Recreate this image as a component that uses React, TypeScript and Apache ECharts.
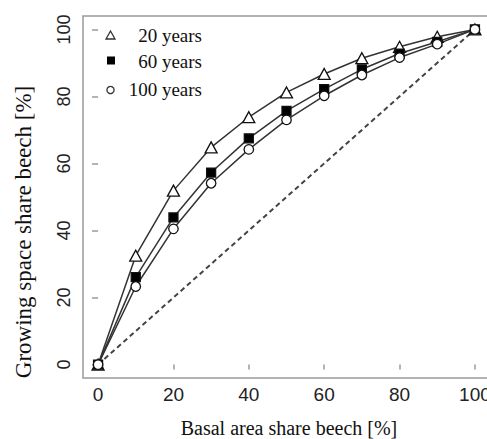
import React, { useEffect, useRef } from "react";
import * as echarts from "echarts";

const basalArea = [0, 10, 20, 30, 40, 50, 60, 70, 80, 90, 100];
const years20 = [0, 32.5, 51.9, 64.8, 73.8, 81.2, 86.7, 91.4, 94.8, 97.8, 100];
const years60 = [0, 26.1, 43.9, 57.3, 67.5, 75.7, 82.2, 88.1, 92.8, 96.3, 100];
const years100 = [0, 23.3, 40.5, 54.1, 64.2, 73.0, 80.2, 86.4, 91.6, 95.6, 100];
const diagonal = [[0, 0], [100, 100]];
const tickValues = [0, 20, 40, 60, 80, 100];
const seriesNames = ["20 years", "60 years", "100 years"];
const xTitle = "Basal area share beech [%]";
const yTitle = "Growing space share beech [%]";

const SERIF = "'Liberation Serif', 'Times New Roman', serif";
const SANS = "'Liberation Sans', Arial, sans-serif";
const GRAY = "#9a9a9a";
const LINE = "#333333";

export default function App() {
  const ref = useRef<HTMLDivElement>(null);
  useEffect(() => {
    if (!ref.current) return;
    const chart = echarts.init(ref.current, null, { renderer: "svg" });
    const pair = (ys: number[]) => basalArea.map((x, i) => [x, ys[i]]);
    const lineSeries = (name: string, ys: number[], symbol: string, size: any, fill: string) => ({
      name,
      type: "line",
      data: pair(ys),
      symbol,
      symbolSize: size,
      showSymbol: true,
      lineStyle: { color: LINE, width: 1.5 },
      itemStyle: { color: fill, borderColor: "#111", borderWidth: 1.3, opacity: 1 },
      emphasis: { disabled: true },
      z: 3,
    });
    chart.setOption({
      animation: false,
      grid: {
        left: 83,
        top: 16,
        width: 407,
        height: 362,
        outerBoundsMode: "none",
        containLabel: false,
        show: true,
        borderColor: GRAY,
        borderWidth: 1.5,
        backgroundColor: "transparent",
      },
      xAxis: {
        type: "value",
        min: -4,
        max: 104,
        axisLine: { show: false },
        splitLine: { show: false },
        axisTick: {
          show: true,
          customValues: tickValues,
          length: 5,
          inside: false,
          lineStyle: { color: GRAY, width: 1.5 },
        },
        axisLabel: {
          customValues: tickValues,
          margin: 7,
          fontFamily: SANS,
          fontSize: 19,
          color: "#222",
        },
      },
      yAxis: {
        type: "value",
        min: -4,
        max: 104,
        axisLine: { show: false },
        splitLine: { show: false },
        axisTick: {
          show: true,
          customValues: tickValues,
          length: 6,
          inside: false,
          lineStyle: { color: GRAY, width: 1.5 },
        },
        axisLabel: {
          customValues: tickValues,
          rotate: 90,
          margin: 10,
          fontFamily: SANS,
          fontSize: 18,
          color: "#222",
        },
      },
      series: [
        {
          name: "diagonal",
          type: "line",
          data: diagonal,
          symbol: "none",
          lineStyle: { color: "#444", width: 2, type: [5, 3.5] },
          z: 2,
        },
        lineSeries(seriesNames[0], years20, "triangle", [12, 11], "#ffffff"),
        lineSeries(seriesNames[1], years60, "rect", 9, "#000000"),
        lineSeries(seriesNames[2], years100, "circle", 9.5, "#ffffff"),
      ],
      graphic: [
        {
          type: "polygon",
          shape: { points: [[110.5, 31], [115, 39], [106, 39]] },
          style: { fill: "#fff", stroke: "#333", lineWidth: 1.3 },
        },
        {
          type: "rect",
          shape: { x: 107, y: 56.5, width: 8, height: 8 },
          style: { fill: "#000" },
        },
        {
          type: "circle",
          shape: { cx: 110.5, cy: 90, r: 3.6 },
          style: { fill: "#fff", stroke: "#333", lineWidth: 1.3 },
        },
        {
          type: "text",
          style: { text: seriesNames[0], x: 202, y: 35, align: "right", verticalAlign: "middle", font: `19px ${SERIF}`, fill: "#111" },
        },
        {
          type: "text",
          style: { text: seriesNames[1], x: 202, y: 61, align: "right", verticalAlign: "middle", font: `19px ${SERIF}`, fill: "#111" },
        },
        {
          type: "text",
          style: { text: seriesNames[2], x: 202, y: 89, align: "right", verticalAlign: "middle", font: `19px ${SERIF}`, fill: "#111" },
        },
        {
          type: "text",
          style: { text: xTitle, x: 289, y: 428, align: "center", verticalAlign: "middle", font: `20px ${SERIF}`, fill: "#111" },
        },
        {
          type: "text",
          x: 23,
          y: 232,
          rotation: Math.PI / 2,
          style: { text: yTitle, x: 0, y: 0, align: "center", verticalAlign: "middle", font: `23px ${SERIF}`, fill: "#111" },
        },
      ],
    });
    return () => chart.dispose();
  }, []);
  return (
    <div
      ref={ref}
      style={{ position: "fixed", left: 0, top: 0, width: 487, height: 439, background: "#fff" }}
    />
  );
}
